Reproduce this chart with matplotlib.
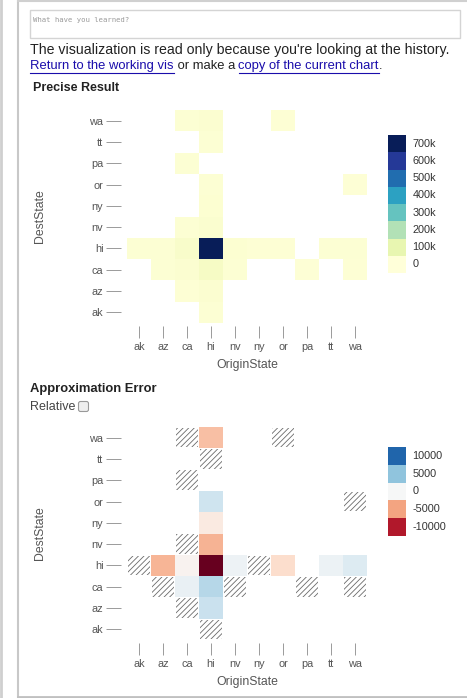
import numpy as np
import matplotlib
matplotlib.use("Agg")
import matplotlib.pyplot as plt
from matplotlib.patches import Rectangle, FancyBboxPatch

plt.rcParams['font.family'] = ['Liberation Sans', 'DejaVu Sans']
plt.rcParams['hatch.linewidth'] = 0.6

W, H = 467, 698

states = ["ak", "az", "ca", "hi", "nv", "ny", "or", "pa", "tt", "wa"]

# rows = DestState (ak at the bottom), columns = OriginState
precise = [
    [0, 0, 0, 15000, 0, 0, 0, 0, 0, 0],                                   # ak
    [0, 0, 12000, 20000, 0, 0, 0, 0, 0, 0],                               # az
    [0, 14000, 20000, 45000, 15000, 0, 0, 10000, 0, 12000],               # ca
    [14000, 16000, 35000, 730000, 18000, 12000, 12000, 0, 14000, 16000],  # hi
    [0, 0, 16000, 22000, 0, 0, 0, 0, 0, 0],                               # nv
    [0, 0, 0, 18000, 0, 0, 0, 0, 0, 0],                                   # ny
    [0, 0, 0, 15000, 0, 0, 0, 0, 0, 10000],                               # or
    [0, 0, 14000, 0, 0, 0, 0, 0, 0, 0],                                   # pa
    [0, 0, 0, 14000, 0, 0, 0, 0, 0, 0],                                   # tt
    [0, 0, 15000, 20000, 0, 0, 12000, 0, 0, 0],                           # wa
]

nan = np.nan
# approximation error; nan where the approximation has no value
error = [
    [nan, nan, nan, nan, nan, nan, nan, nan, nan, nan],                   # ak
    [nan, nan, nan, 2800, nan, nan, nan, nan, nan, nan],                  # az
    [nan, nan, 900, 3600, nan, nan, nan, nan, nan, nan],                  # ca
    [nan, -4200, -400, -14000, 600, nan, -2200, nan, 700, 1700],          # hi
    [nan, nan, nan, -4300, nan, nan, nan, nan, nan, nan],                 # nv
    [nan, nan, nan, -1100, nan, nan, nan, nan, nan, nan],                 # ny
    [nan, nan, nan, 2600, nan, nan, nan, nan, nan, nan],                  # or
    [nan, nan, nan, nan, nan, nan, nan, nan, nan, nan],                   # pa
    [nan, nan, nan, nan, nan, nan, nan, nan, nan, nan],                   # tt
    [nan, nan, nan, -3800, nan, nan, nan, nan, nan, nan],                 # wa
]

precise_legend = [700000, 600000, 500000, 400000, 300000, 200000, 100000, 0]
precise_labels = ["700k", "600k", "500k", "400k", "300k", "200k", "100k", "0"]
error_legend = [10000, 5000, 0, -5000, -10000]

cmap_p = plt.get_cmap("YlGnBu")
cmap_e = plt.get_cmap("RdBu")
norm_p = matplotlib.colors.Normalize(0, 700000)
norm_e = matplotlib.colors.Normalize(-12500, 12500)

fig = plt.figure(figsize=(W / 100, H / 100), dpi=100)


def px_axes(x0, y0, x1, y1, **kw):
    return fig.add_axes([x0 / W, 1 - y1 / H, (x1 - x0) / W, (y1 - y0) / H], **kw)


# page layer in pixel coordinates
page = px_axes(0, 0, W, H)
page.set_xlim(0, W)
page.set_ylim(H, 0)
page.axis("off")

page.plot([1, 1], [0, H], color="#cfcfcf", lw=2)
page.plot([18, 18], [1, H - 1], color="#c8c8c8", lw=1.5)
page.plot([18, W], [1, 1], color="#d0d0d0", lw=1.5)
page.plot([18, W], [H - 1, H - 1], color="#c0c0c0", lw=2)
page.add_patch(Rectangle((30, 10), 430, 28, facecolor="white", edgecolor="#d4d4d4", lw=1))
page.text(33, 20, "What have you learned?", family="DejaVu Sans Mono", fontsize=5.2,
          color="#9a9a9a", va="center")

page.text(30, 50, "The visualization is read only because you're looking at the history.",
          fontsize=10.2, color="#222222", va="center")

renderer = fig.canvas.get_renderer()
x = 30
for txt, link in [("Return to the working vis", True), (" or make a ", False),
                  ("copy of the current chart", True), (".", False)]:
    t = page.text(x, 66, txt, fontsize=9.4, va="center",
                  color="#1a0dab" if link else "#222222")
    w = t.get_window_extent(renderer).width
    if link:
        page.plot([x, x + w], [72.5, 72.5], color="#1a0dab", lw=0.8)
    x += w

page.text(33, 88, "Precise Result", fontsize=9, weight="bold", color="#222222", va="center")
page.text(30, 389, "Approximation Error", fontsize=9.4, weight="bold", color="#222222", va="center")
page.text(30, 407, "Relative", fontsize=9, color="#444444", va="center")
page.add_patch(FancyBboxPatch((78.5, 401.5), 10, 10, boxstyle="round,pad=0,rounding_size=2",
                              facecolor="#eeeeee", edgecolor="#999999", lw=0.8))


def style_heatmap(ax):
    ax.set_xlim(0, 10)
    ax.set_ylim(0, 10)
    for s in ax.spines.values():
        s.set_visible(False)
    ax.spines["left"].set_position(("outward", 4))
    ax.spines["bottom"].set_position(("outward", 2))
    ax.set_xticks(np.arange(10) + 0.5)
    ax.set_yticks(np.arange(10) + 0.5)
    ax.set_xticklabels(states)
    ax.set_yticklabels(states)
    ax.tick_params(axis="y", length=10.5, width=0.7, color="#9a9a9a", pad=2.5,
                   labelsize=7.8, labelcolor="#555555")
    ax.tick_params(axis="x", length=8.5, width=0.7, color="#9a9a9a", pad=3.5,
                   labelsize=7.8, labelcolor="#555555")
    ax.set_xlabel("OriginState", fontsize=8.8, color="#555555", labelpad=4.5)
    ax.set_ylabel("DestState", fontsize=8.8, color="#555555", labelpad=31)


def draw_legend(ax, values, labels, cmap, norm):
    n = len(values)
    ax.barh(np.arange(n)[::-1], 1, height=1.0, left=0,
            color=[cmap(norm(v)) for v in values])
    ax.set_xlim(0, 1)
    ax.set_ylim(-0.5, n - 0.5)
    ax.axis("off")
    for i, lab in enumerate(labels):
        ax.text(1.35, n - 1 - i, lab, transform=ax.get_yaxis_transform(),
                fontsize=7.8, color="#333333", va="center")


P = np.array(precise, dtype=float)
E = np.array(error, dtype=float)
grid = np.arange(11)

# precise result heatmap
ax1 = px_axes(127, 110, 367, 323)
ax1.pcolormesh(grid, grid, np.ma.masked_equal(P, 0), cmap=cmap_p, norm=norm_p)
style_heatmap(ax1)

leg1 = px_axes(388, 135, 406, 273)
draw_legend(leg1, precise_legend, precise_labels, cmap_p, norm_p)

# approximation error heatmap
ax2 = px_axes(127, 427, 367, 640)
ax2.pcolormesh(grid, grid, np.ma.masked_invalid(E), cmap=cmap_e, norm=norm_e)
for r in range(10):
    for c in range(10):
        if P[r, c] > 0 and np.isnan(E[r, c]):
            ax2.add_patch(Rectangle((c + 0.04, r + 0.04), 0.92, 0.92, facecolor="none",
                                    edgecolor="#6a6a6a", hatch="//////", lw=0))
style_heatmap(ax2)

leg2 = px_axes(388, 447, 406, 536)
draw_legend(leg2, error_legend, [str(v) for v in error_legend], cmap_e, norm_e)

fig.savefig("out.png", dpi=100)
